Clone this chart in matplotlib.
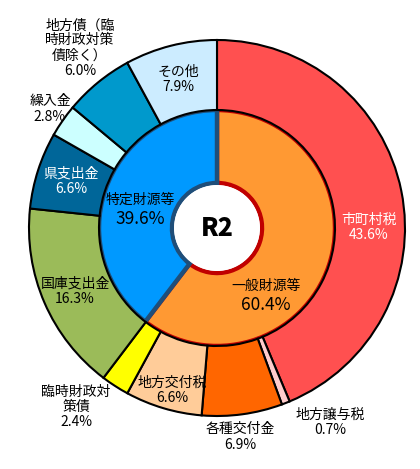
import matplotlib
matplotlib.use("Agg")
import matplotlib.pyplot as plt
from matplotlib.patches import Circle

plt.rcParams['font.family'] = ['Noto Sans CJK JP', 'DejaVu Sans']

# ---- data ----
outer_names = ["市町村税", "地方譲与税", "各種交付金", "地方交付税", "臨時財政対\n策債",
               "国庫支出金", "県支出金", "繰入金", "地方債（臨\n時財政対策\n債除く）", "その他"]
outer_values = [43.6, 0.7, 6.9, 6.6, 2.4, 16.3, 6.6, 2.8, 6.0, 7.9]
outer_colors = ["#FF5050", "#FFCCCC", "#FF6600", "#FFCC99", "#FFFF00",
                "#9BBB59", "#006699", "#CCFFFF", "#0099CC", "#CCECFF"]
outer_textcolors = ["white", "black", "black", "black", "black",
                    "black", "white", "black", "black", "black"]

inner_names = ["一般財源等", "特定財源等"]
inner_values = [60.4, 39.6]
inner_colors = ["#FF9933", "#0099FF"]
inner_edges = ["#C00000", "#1F4E79"]

center_label = "R2"

# ---- layout ----
W, H = 420, 469
cx, cy = 217, H - 228
R = 188
R_mid = 118
R_hole = 45

outer_pos = [(369, 227), (330, 422), (240, 437), (172, 390), (76, 407),
             (75, 291), (71, 181), (50, 109), (80, 48), (178, 79)]
inner_pos = [(266, 295), (140, 209)]

fig = plt.figure(figsize=(W / 100, H / 100), dpi=100)
ax = fig.add_axes([0, 0, 1, 1])

# inner ring
wedges_in, _ = ax.pie(inner_values, colors=inner_colors, startangle=90, counterclock=False,
                      radius=R_mid, center=(cx, cy),
                      wedgeprops=dict(width=R_mid - R_hole, linewidth=3.2))
for w, ec in zip(wedges_in, inner_edges):
    w.set_edgecolor(ec)

# outer ring
ax.pie(outer_values, colors=outer_colors, startangle=90, counterclock=False,
       radius=R, center=(cx, cy), normalize=True,
       wedgeprops=dict(width=R - R_mid, edgecolor="black", linewidth=1.5))

ax.add_patch(Circle((cx, cy), R_hole - 2, facecolor="white", edgecolor="none", zorder=5))

ax.set_xlim(0, W)
ax.set_ylim(0, H)
ax.set_aspect("equal")
ax.axis("off")

for name, val, col, (x, y) in zip(outer_names, outer_values, outer_textcolors, outer_pos):
    ax.text(x, H - y, f"{name}\n{val:.1f}%", color=col, fontsize=10,
            ha="center", va="center", linespacing=1.1, zorder=10)

for name, val, (x, y) in zip(inner_names, inner_values, inner_pos):
    ax.text(x, H - y + 9, name, fontsize=10, ha="center", va="center", zorder=10)
    ax.text(x, H - y - 10, f"{val:.1f}%", fontsize=12.5, ha="center", va="center", zorder=10)

ax.text(cx, cy, center_label, fontsize=18, fontweight="black", ha="center", va="center",
        family=["Noto Sans CJK JP", "DejaVu Sans"], zorder=10)

fig.savefig("out.png", dpi=100)
